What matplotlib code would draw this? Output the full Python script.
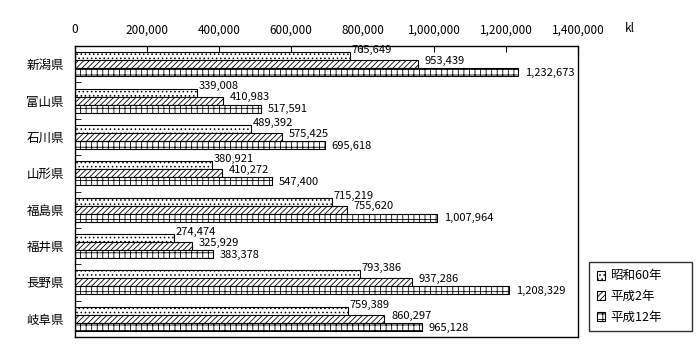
import numpy as np
import matplotlib.pyplot as plt

plt.rcParams['font.family'] = ['Noto Sans CJK JP', 'DejaVu Sans']
plt.rcParams['hatch.linewidth'] = 0.6

prefs = ["新潟県", "富山県", "石川県", "山形県", "福島県", "福井県", "長野県", "岐阜県"]
series = ["昭和60年", "平成2年", "平成12年"]
s60 = [765649, 339008, 489392, 380921, 715219, 274474, 793386, 759389]
h2 = [953439, 410983, 575425, 410272, 755620, 325929, 937286, 860297]
h12 = [1232673, 517591, 695618, 547400, 1007964, 383378, 1208329, 965128]
hatches = ['....', '//////', '+++']

fig = plt.figure(figsize=(7, 3.6), dpi=100)
ax = fig.add_axes([0.107, 0.064, 0.719, 0.808])

y = np.arange(len(prefs))
h = 0.22
dy = [-0.17, -0.09, 0.02]
dx = [5000, 19000, 19000]
for i, (vals, name) in enumerate(zip([s60, h2, h12], series)):
    pos = y + (i - 1) * h
    ax.barh(pos, vals, height=h, color='white', edgecolor='black',
            linewidth=0.8, hatch=hatches[i], label=name)
    for p, v in zip(pos, vals):
        ax.text(v + dx[i], p + dy[i], f"{v:,}", fontsize=8,
                va='center', ha='left')

ax.set_xlim(0, 1400000)
ax.set_ylim(len(prefs) - 0.5, -0.5)
ax.xaxis.tick_top()
ax.set_xticks(np.arange(0, 1400001, 200000))
ax.set_xticklabels([f"{t:,}" for t in range(0, 1400001, 200000)], fontsize=8.5)
ax.tick_params(axis='x', direction='in', length=4, pad=7, top=True, bottom=False)
ax.set_yticks(y)
ax.set_yticklabels(prefs, fontsize=9)
ax.set_yticks(np.arange(len(prefs)) + 0.5, minor=True)
ax.tick_params(axis='y', which='major', length=0, pad=8)
ax.tick_params(axis='y', which='minor', direction='in', length=4)
for s in ax.spines.values():
    s.set_linewidth(1)
fig.text(630 / 700, 1 - 29 / 360, "kl", fontsize=8.5, ha='center', va='center')

leg = ax.legend(loc='lower left', bbox_to_anchor=(589 / 700, 1 - 331 / 360, 103 / 700, 68 / 360),
                bbox_transform=fig.transFigure, fontsize=9, frameon=True, fancybox=False,
                edgecolor='black', handlelength=0.7, handleheight=0.7, handletextpad=0.4,
                labelspacing=0.6, borderpad=0.6, borderaxespad=0, mode='expand')
leg.get_frame().set_linewidth(1)

fig.savefig("out.png", dpi=100)
